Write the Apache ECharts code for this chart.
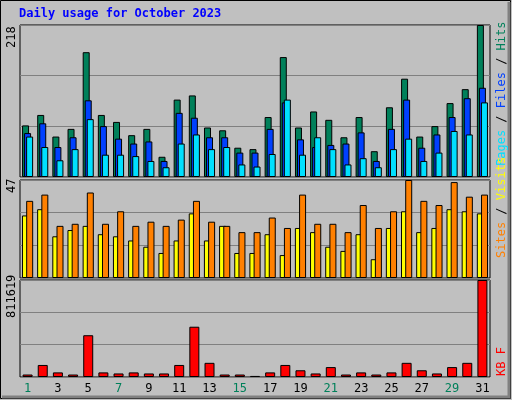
<!DOCTYPE html>
<html><head><meta charset="utf-8">
<script src="https://cdn.jsdelivr.net/npm/echarts@6/dist/echarts.min.js"></script>
<style>html,body{margin:0;padding:0;background:#c0c0c0}#c{width:512px;height:400px}</style>
</head><body><div id="c"></div>
<script>
const days = ['1','2','3','4','5','6','7','8','9','10','11','12','13','14','15','16','17','18','19','20','21','22','23','24','25','26','27','28','29','30','31'];
const weekendDays = ['1','7','8','14','15','21','22','28','29'];
const hits  = [74,89,58,69,179,89,79,60,69,29,111,117,71,67,42,40,86,172,71,94,82,57,86,37,100,141,58,73,106,126,218];
const files = [63,77,43,57,110,73,55,48,51,23,92,85,57,57,35,35,69,107,54,43,46,48,64,23,69,111,42,61,86,113,128];
const pages = [58,43,24,40,83,32,32,30,23,14,48,61,40,43,18,15,33,111,32,57,40,18,27,14,40,55,23,35,66,61,107];
const visits= [30,33,20,23,25,21,20,18,15,12,18,31,18,25,12,12,21,11,24,22,15,13,21,9,24,32,22,24,33,32,31];
const sites = [37,40,25,26,41,26,32,25,27,25,28,37,27,25,22,22,29,24,40,26,26,22,35,24,32,47,37,35,46,39,40];
const kbytes= [20700,100700,38500,20700,349500,38500,29600,38500,29600,29600,100700,420600,118500,20700,20700,8900,38500,100700,56300,29600,83000,20700,38500,20700,38500,118500,56300,29600,83000,118500,811619];
const maxTop = 218, maxMid = 47, maxBot = 811619;

const ch = echarts.init(document.getElementById('c'));
const F = 'DejaVu Sans Mono';
const grids = [
  {left:20,right:22,top:25,height:152},
  {left:20,right:22,top:180,height:98},
  {left:20,right:22,top:280,height:97}
];
function xa(i, show){
  return {type:'category',gridIndex:i,data:days,axisTick:{show:false},axisLine:{show:false},
    axisLabel:{show:show,margin:6,fontFamily:F,fontSize:12,
      color:(v)=>weekendDays.includes(v)?'#00805a':'#000'}};
}
function ya(i,max){
  return {type:'value',gridIndex:i,min:0,max:max,interval:max/3,axisLabel:{show:false},
    axisLine:{show:false},axisTick:{show:false},splitLine:{lineStyle:{color:'#808080',width:1}}};
}
function bar(name,data,xi,color,w,gap){
  const s={type:'bar',name,data,xAxisIndex:xi,yAxisIndex:xi,barWidth:w,
    itemStyle:{color,borderColor:'#000',borderWidth:1},animation:false,silent:true};
  if(gap!==undefined) s.barGap=gap;
  return s;
}
const tx=(x,y,text,rot,extra)=>Object.assign({type:'text',x,y,rotation:rot||0,
  style:Object.assign({text,fontFamily:F,fontSize:12,fill:'#000'},extra||{})}, {});
ch.setOption({
  backgroundColor:'#c0c0c0',
  grid:grids.map(g=>Object.assign({show:true,backgroundColor:'#c0c0c0',borderColor:'#000',borderWidth:1},g)),
  xAxis:[xa(0,false),xa(1,false),xa(2,true)],
  yAxis:[ya(0,maxTop),ya(1,maxMid),ya(2,maxBot)],
  series:[
    bar('Hits',hits,0,'#00805a',7,'-71%'),
    bar('Files',files,0,'#0040ff',7,'-71%'),
    bar('Pages',pages,0,'#00e0ff',7,'-71%'),
    bar('Visits',visits,1,'#ffff00',7,'-40%'),
    bar('Sites',sites,1,'#ff8000',7,'-40%'),
    bar('KB F',kbytes,2,'#ff0000',10)
  ],
  graphic:[
    {type:'rect',shape:{x:0.5,y:0.5,width:510,height:398},style:{fill:null,stroke:'#000',lineWidth:1}},
    {type:'polyline',shape:{points:[[2,397],[509,397],[509,2]]},style:{stroke:'#808080',lineWidth:3,fill:null}},
    {type:'text',left:19,top:8,style:{text:'Daily usage for October 2023',fontFamily:F,fontSize:12,fontWeight:'bold',fill:'#0000ff'}},
    tx(6,48,'218',Math.PI/2),
    tx(6,193,'47',Math.PI/2),
    tx(6,318,'811619',Math.PI/2),
    {type:'text',x:496,y:166,rotation:Math.PI/2,style:{text:'{a|Pages} {d|/} {b|Files} {d|/} {c|Hits}',fontFamily:F,fontSize:12,
      rich:{a:{fill:'#00e0ff',fontFamily:F,fontSize:12},b:{fill:'#0040ff',fontFamily:F,fontSize:12},c:{fill:'#00805a',fontFamily:F,fontSize:12},d:{fill:'#000',fontFamily:F,fontSize:12}}}},
    {type:'text',x:496,y:258,rotation:Math.PI/2,style:{text:'{a|Sites} {d|/} {b|Visits}',fontFamily:F,fontSize:12,
      rich:{a:{fill:'#ff8000',fontFamily:F,fontSize:12},b:{fill:'#ffff00',fontFamily:F,fontSize:12},d:{fill:'#000',fontFamily:F,fontSize:12}}}},
    {type:'text',x:496,y:376,rotation:Math.PI/2,style:{text:'KB F',fontFamily:F,fontSize:12,fill:'#ff0000'}}
  ]
});
</script></body></html>
